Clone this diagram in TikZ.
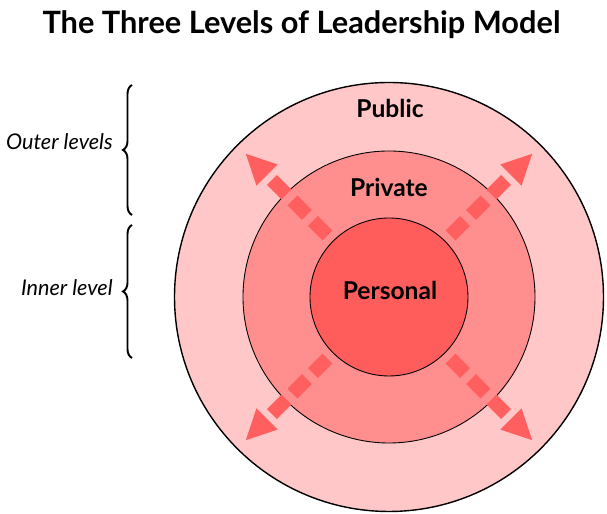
\documentclass[tikz,border=0pt]{standalone}
\usepackage{fontspec}
\setmainfont{Lato}
\usetikzlibrary{arrows.meta}
\usetikzlibrary{decorations.pathreplacing}
\definecolor{publicpink}{HTML}{FFC7C7}
\definecolor{privatepink}{HTML}{FF8E8E}
\definecolor{personalred}{HTML}{FF5C5C}
\definecolor{burstred}{HTML}{FF5F5F}

\begin{document}
\begin{tikzpicture}[
	ring/.style={circle, draw=black, line width=0.5pt, inner sep=0pt},
	lvl/.style={font=\bfseries\fontsize{14}{17}\selectfont},
	side/.style={font=\itshape\fontsize{12.3}{15}\selectfont, anchor=east, inner sep=0pt},
	burst/.style={burstred, line width=0.28cm, dash pattern=on 0.41cm off 0.17cm, -{Triangle[length=0.6cm, width=0.6cm, line width=0pt]}},
	curly/.style={decorate, decoration={brace, amplitude=0.18cm}, line width=1.1pt}]
	\useasboundingbox (0,0) rectangle (12.14,10.28);
	\coordinate (c) at (7.78,4.34);
	\node[font=\bfseries\fontsize{17.5}{21}\selectfont] (title) at (6.03,9.78) {The Three Levels of Leadership Model};
	\node[ring, fill=publicpink, line width=0.8pt, minimum size=8.58cm] (public) at (c) {};
	\node[ring, fill=privatepink, minimum size=5.84cm] (private) at (c) {};
	\node[ring, fill=personalred, minimum size=3.16cm] (personal) at (c) {};
	\node[lvl] (publiclbl) at (7.8,8.12) {Public};
	\node[lvl] (privatelbl) at (7.78,6.54) {Private};
	\node[lvl] (personallbl) at (7.8,4.48) {Personal};
	\foreach \a in {45,135,225,315} {
		\path (c) ++(\a:1.74) coordinate (s\a);
		\path (c) ++(\a:4.05) coordinate (e\a);
		\draw[burst] (s\a) -- (e\a);
	}
	\coordinate (outertop) at (2.64,8.58);
	\coordinate (outerbot) at (2.64,5.98);
	\coordinate (innertop) at (2.64,5.78);
	\coordinate (innerbot) at (2.64,3.12);
	\draw[curly] (outerbot) -- (outertop);
	\draw[curly] (innerbot) -- (innertop);
	\node[side] (outerlbl) at (2.26,7.44) {Outer levels};
	\node[side] (innerlbl) at (2.26,4.52) {Inner level};
\end{tikzpicture}
\end{document}
